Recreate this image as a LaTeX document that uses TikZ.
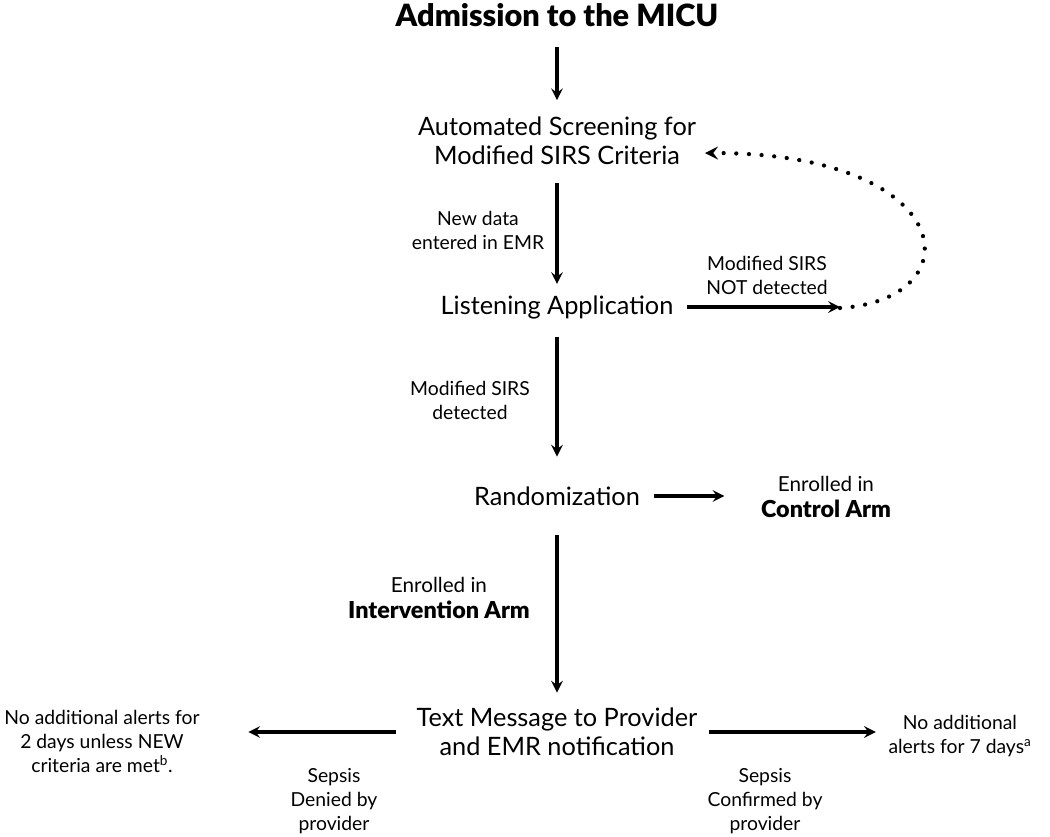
\documentclass[tikz,border=0pt]{standalone}
\usepackage{fontspec}
\setmainfont{Lato}[BoldFont={Lato Black}]
\usepackage{tikz}
\usetikzlibrary{arrows,positioning}

\newcommand{\armname}[1]{{\fontsize{17.5}{20}\selectfont\bfseries #1}}

\begin{document}
\begin{tikzpicture}[x=0.75pt, y=-0.75pt,
stepnode/.style={align=center, font=\fontsize{19}{22}\selectfont},
labelnode/.style={align=center, font=\fontsize{14.5}{18}\selectfont},
armnode/.style={align=center, font=\fontsize{15.5}{20}\selectfont},
flow/.style={-stealth, line width=2.8pt},
dotflow/.style={-stealth, line width=3.2pt, line cap=round, dash pattern=on 0pt off 9.5pt},
]

\useasboundingbox (0,0) rectangle (1050,836);

\node[font=\fontsize{23}{26}\selectfont\bfseries] (admit) at (557,15) {Admission to the MICU};

\node[stepnode]   (screen)   at (557,141)   {Automated Screening for\\Modified SIRS Criteria};
\node[stepnode]   (listen)   at (557,307)   {Listening Application};
\node[stepnode]   (rand)     at (557,496)   {Randomization};
\node[stepnode]   (textmsg)  at (557,732)   {Text Message to Provider\\and EMR notification};

\node[armnode]    (control)    at (826,497)  {Enrolled in\\\armname{Control Arm}};
\node[labelnode]  (leftalert)  at (102,741)  {No additional alerts for\\2 days unless NEW\\criteria are met\textsuperscript{b}.};
\node[labelnode]  (rightalert) at (960,736)  {No additional\\alerts for 7 days\textsuperscript{a}};

\node[labelnode]  (newdata)      at (478,230)  {New data\\entered in EMR};
\node[labelnode]  (notdetected)  at (767,275)  {Modified SIRS\\NOT detected};
\node[labelnode]  (detected)     at (470,400)  {Modified SIRS\\detected};
\node[armnode]    (intervention) at (439,598)  {Enrolled in\\\armname{Intervention Arm}};
\node[labelnode]  (denied)       at (334,801)  {Sepsis\\Denied by\\provider};
\node[labelnode]  (confirmed)    at (765,801)  {Sepsis\\Confirmed by\\provider};

\coordinate (loopend) at (840,308);
\coordinate (looptip) at (705,153);

\draw[flow, shorten <=12pt, shorten >=9pt] (admit.south) -- (screen.north);
\draw[flow, shorten <=10pt, shorten >=5pt] (screen.south) -- (listen.north);
\draw[flow, shorten <=10pt, shorten >=19pt] (listen.south) -- (rand.north);
\draw[flow, shorten <=19pt, shorten >=8pt] (rand.south) -- (textmsg.north);

\draw[flow, shorten <=7pt] (listen.east) -- (listen.east -| loopend);
\draw[flow, shorten <=7pt, shorten >=24pt] (rand.east) -- (rand.east -| control.west);
\draw[flow, shorten <=12pt, shorten >=33pt] (textmsg.west) -- (textmsg.west -| leftalert.east);
\draw[flow, shorten <=5pt, shorten >=6pt] (textmsg.east) -- (textmsg.east -| rightalert.west);

\draw[dotflow] (loopend) .. controls (975,300) and (960,153) .. (looptip);

\end{tikzpicture}
\end{document}
